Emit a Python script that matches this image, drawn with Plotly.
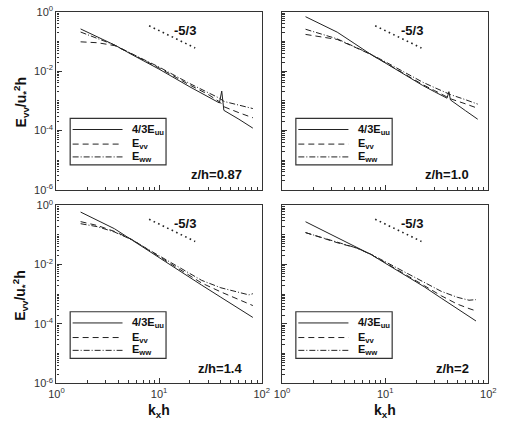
import plotly.graph_objects as go

# ---------------- data (log10 of E/u*^2 h) ----------------
panel_labels = ["z/h=0.87", "z/h=1.0", "z/h=1.4", "z/h=2"]
series_names = ["4/3E<sub>uu</sub>", "E<sub>vv</sub>", "E<sub>ww</sub>"]

# z/h = 0.87
kx_087_uu = [1.72, 2.5, 3.2, 3.7, 5.5, 10, 20, 30, 38.7, 40.8, 42.8, 60, 82]
log_uu_087 = [-0.576, -0.843, -1.02, -1.12, -1.45, -1.93, -2.53, -2.86, -3.07, -2.67, -3.32, -3.62, -3.92]
kx_087 = [1.72, 2.5, 3.2, 3.7, 5.5, 10, 20, 30, 38.7, 43, 60, 82]
log_vv_087 = [-1.01, -1.04, -1.10, -1.14, -1.43, -1.89, -2.47, -2.78, -3.03, -3.20, -3.40, -3.57]
log_ww_087 = [-0.68, -0.90, -1.05, -1.12, -1.42, -1.86, -2.42, -2.71, -2.91, -3.02, -3.15, -3.26]

# z/h = 1.0
kx_10_uu = [1.69, 2.5, 3.43, 5, 7.3, 10, 15, 23.1, 30, 39.8, 41.5, 43, 60, 79]
log_uu_10 = [-0.163, -0.452, -0.684, -1.06, -1.44, -1.72, -2.09, -2.48, -2.69, -2.91, -2.69, -2.97, -3.33, -3.62]
kx_10 = [1.69, 2.5, 3.43, 5, 7.3, 10, 15, 23.1, 30, 39.8, 43, 60, 79]
log_vv_10 = [-0.76, -0.85, -0.93, -1.18, -1.44, -1.71, -2.07, -2.45, -2.65, -2.88, -2.93, -3.10, -3.25]
log_ww_10 = [-0.586, -0.76, -0.91, -1.17, -1.43, -1.68, -2.02, -2.37, -2.55, -2.74, -2.79, -2.96, -3.11]

# z/h = 1.4
kx_14 = [1.72, 2.5, 3.68, 5.5, 7.6, 10, 20, 26, 40, 60, 75, 82]
log_uu_14 = [-0.228, -0.50, -0.79, -1.18, -1.50, -1.77, -2.43, -2.69, -3.10, -3.49, -3.70, -3.78]
log_vv_14 = [-0.55, -0.68, -0.88, -1.16, -1.47, -1.72, -2.38, -2.62, -2.92, -3.18, -3.33, -3.38]
log_ww_14 = [-0.62, -0.72, -0.90, -1.17, -1.46, -1.70, -2.30, -2.53, -2.78, -2.95, -3.02, -2.98]

# z/h = 2
kx_20 = [1.69, 2.5, 3.5, 5.3, 7.3, 10, 15, 24, 35, 50, 65, 76]
log_uu_20 = [-0.554, -0.85, -1.10, -1.42, -1.66, -1.95, -2.32, -2.75, -3.13, -3.48, -3.73, -3.90]
log_vv_20 = [-0.92, -1.11, -1.27, -1.44, -1.66, -1.93, -2.28, -2.71, -3.05, -3.33, -3.48, -3.56]
log_ww_20 = [-0.92, -1.10, -1.25, -1.44, -1.65, -1.90, -2.22, -2.62, -2.90, -3.10, -3.20, -3.18]

# -5/3 reference line
slope_kx = [8.0, 22.5]
slope_E = [0.339, 0.0605]
slope_label = "-5/3"

x_tickvals = [1, 10, 100]
x_ticktext = ["10<sup>0</sup>", "10<sup>1</sup>", "10<sup>2</sup>"]
y_tickvals = [1, 1e-2, 1e-4, 1e-6]
y_ticktext = ["10<sup>0</sup>", "10<sup>-2</sup>", "10<sup>-4</sup>", "10<sup>-6</sup>"]

# ---------------- figure ----------------
FONT = "Liberation Sans, Arial, sans-serif"
INK = "#222222"

panels = [
    (kx_087_uu, log_uu_087, kx_087, log_vv_087, log_ww_087),
    (kx_10_uu, log_uu_10, kx_10, log_vv_10, log_ww_10),
    (kx_14, log_uu_14, kx_14, log_vv_14, log_ww_14),
    (kx_20, log_uu_20, kx_20, log_vv_20, log_ww_20),
]

W, H = 505, 427
xdom = [[50 / W, 262 / W], [283 / W, 496 / W]]
ydom = [[1 - 188 / H, 1 - 4 / H], [1 - 388 / H, 1 - 204 / H]]

fig = go.Figure()
minor_x = [k * 10 ** d for d in (0, 1) for k in range(2, 10)]
minor_y = [k * 10.0 ** d for d in range(-6, 0) for k in range(1, 10) if not (k == 1 and d % 2 == 0)]

layout = {}
annotations = []
shapes = []
for i, (kxu, luu, kxo, lvv, lww) in enumerate(panels):
    n = "" if i == 0 else str(i + 1)
    xa, ya = "x" + n, "y" + n
    col, row = i % 2, i // 2
    line_style = dict(color=INK, width=1)
    fig.add_trace(go.Scatter(x=kxu, y=[10 ** v for v in luu], mode="lines",
                             line=dict(line_style, dash="solid"), xaxis=xa, yaxis=ya, showlegend=False))
    fig.add_trace(go.Scatter(x=kxo, y=[10 ** v for v in lvv], mode="lines",
                             line=dict(line_style, dash="6px,4px"), xaxis=xa, yaxis=ya, showlegend=False))
    fig.add_trace(go.Scatter(x=kxo, y=[10 ** v for v in lww], mode="lines",
                             line=dict(line_style, dash="6px,2px,1px,2px"), xaxis=xa, yaxis=ya, showlegend=False))
    fig.add_trace(go.Scatter(x=slope_kx, y=slope_E, mode="lines",
                             line=dict(color=INK, width=1.6, dash="1.6px,3.4px"), xaxis=xa, yaxis=ya, showlegend=False))

    layout["xaxis" + n] = dict(
        type="log", range=[0, 2], domain=xdom[col], anchor=ya,
        showline=True, mirror=True, linecolor="#333333", linewidth=1.2,
        showgrid=False, zeroline=False, ticks="inside", ticklen=5, tickcolor="#333333",
        tickmode="array", tickvals=x_tickvals, ticktext=x_ticktext,
        showticklabels=(row == 1), tickfont=dict(family=FONT, size=11, color="#333333"),
        minor=dict(tickmode="array", tickvals=minor_x, ticks="inside", ticklen=3, tickcolor="#333333", showgrid=False),
    )
    layout["yaxis" + n] = dict(
        type="log", range=[-6, 0], domain=ydom[row], anchor=xa,
        showline=True, mirror=True, linecolor="#333333", linewidth=1.2,
        showgrid=False, zeroline=False, ticks="inside", ticklen=5, tickcolor="#333333",
        tickmode="array", tickvals=y_tickvals, ticktext=y_ticktext,
        showticklabels=(col == 0), tickfont=dict(family=FONT, size=11, color="#333333"),
        minor=dict(tickmode="array", tickvals=minor_y, ticks="inside", ticklen=2.5, tickcolor="#333333", showgrid=False),
    )

    xd, yd = xa + " domain", ya + " domain"
    # legend box
    shapes.append(dict(type="rect", xref=xd, yref=yd, x0=0.067, x1=0.534, y0=0.140, y1=0.402,
                       line=dict(color="#333333", width=1.2), fillcolor="white", layer="above"))
    rows_y = [0.339, 0.257, 0.185]
    dashes = ["solid", "6px,4px", "6px,2px,1px,2px"]
    for ry, ds, nm in zip(rows_y, dashes, series_names):
        shapes.append(dict(type="line", xref=xd, yref=yd, x0=0.079, x1=0.322, y0=ry, y1=ry,
                           line=dict(color=INK, width=1, dash=ds), layer="above"))
        annotations.append(dict(xref=xd, yref=yd, x=0.360, y=ry, text="<b>" + nm + "</b>",
                                showarrow=False, xanchor="left", yanchor="middle",
                                font=dict(family=FONT, size=11, color="#111111")))
    # panel label
    annotations.append(dict(xref=xd, yref=yd, x=0.915, y=0.085, text="<b>" + panel_labels[i] + "</b>",
                            showarrow=False, xanchor="right", yanchor="middle",
                            font=dict(family=FONT, size=13, color="#111111")))
    # slope label
    annotations.append(dict(xref=xd, yref=yd, x=0.565, y=0.895, text="<b>" + slope_label + "</b>",
                            showarrow=False, xanchor="left", yanchor="middle",
                            font=dict(family=FONT, size=13, color="#111111")))

# axis titles
ytitle = "<b>E<sub>vv</sub>/u<sub>*</sub><sup>2</sup>h</b>"
for yc in (1 - 97 / H, 1 - 297 / H):
    annotations.append(dict(xref="paper", yref="paper", x=13 / W, y=yc, text=ytitle, textangle=-90,
                            showarrow=False, xanchor="center", yanchor="middle",
                            font=dict(family=FONT, size=14, color="#111111")))
for xc in (156 / W, 389 / W):
    annotations.append(dict(xref="paper", yref="paper", x=xc, y=1 - 417 / H, text="<b>k<sub>x</sub>h</b>",
                            showarrow=False, xanchor="center", yanchor="middle",
                            font=dict(family=FONT, size=14, color="#111111")))

fig.update_layout(
    width=W, height=H, margin=dict(l=0, r=0, t=0, b=0),
    paper_bgcolor="white", plot_bgcolor="white",
    annotations=annotations, shapes=shapes, showlegend=False,
    **layout,
)
fig.write_html("out.html")
